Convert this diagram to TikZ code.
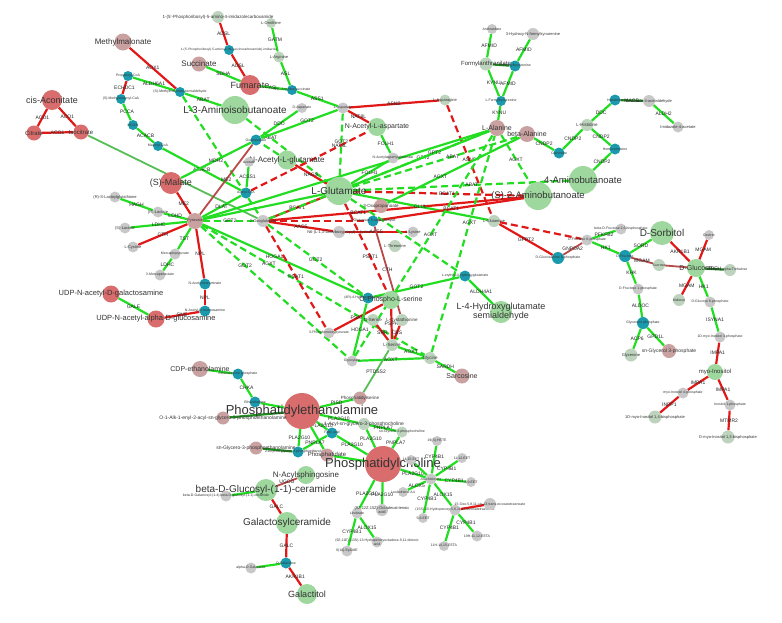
\documentclass[tikz,border=0pt]{standalone}
\usepackage{fontspec}
\setmainfont{Liberation Sans}
\usepackage{xcolor}
\usepackage{tikz}
\usetikzlibrary{backgrounds}

\definecolor{cred}{HTML}{D96C6C}
\definecolor{cpink}{HTML}{C9A1A1}
\definecolor{cgreen}{HTML}{9ED89E}
\definecolor{cgray}{HTML}{C8C8C8}
\definecolor{cgrn}{HTML}{BDD3BD}
\definecolor{cteal}{HTML}{1B9AAE}
\definecolor{egreen}{HTML}{22DD22}
\definecolor{ered}{HTML}{E01818}
\definecolor{edred}{HTML}{B84A4A}
\definecolor{emgreen}{HTML}{55BF55}
\definecolor{edgreen}{HTML}{1F8F1F}

\newcommand{\fsz}[1]{\fontsize{#1}{#1}\selectfont}

\begin{document}
\begin{tikzpicture}[
    x=1pt, y=-1pt,
    rn/.style={circle, inner sep=0pt, fill=cred, minimum size=#1}, rn/.default=16,
    pn/.style={circle, inner sep=0pt, fill=cpink, minimum size=#1}, pn/.default=14,
    gn/.style={circle, inner sep=0pt, fill=cgreen, minimum size=#1}, gn/.default=16,
    yn/.style={circle, inner sep=0pt, fill=cgray, minimum size=#1}, yn/.default=11,
    hn/.style={circle, inner sep=0pt, fill=cgrn, minimum size=#1}, hn/.default=12,
    tn/.style={circle, inner sep=0pt, fill=cteal, minimum size=#1}, tn/.default=11,
    mlab/.style={font=\fsz{#1}, text=black!80, align=center, inner sep=0pt},
    elab/.style={font=\fsz{5}, text=black!85, inner sep=0.5pt},
    gline/.style={draw=egreen, line width=2.2pt},
    gdash/.style={gline, dash pattern=on 7pt off 4pt},
    rline/.style={draw=ered, line width=2.2pt},
    rdash/.style={rline, dash pattern=on 7pt off 4pt},
    drline/.style={draw=edred, line width=1.8pt},
    mgline/.style={draw=emgreen, line width=1.8pt},
    dgline/.style={draw=edgreen, line width=2.2pt},
]
\useasboundingbox (0,0) rectangle (782,622);

% TCA and propanoate
\node[rn=20, label={[mlab=9]center:{cis-Aconitate}}] (cisaco) at (52,100) {};
\node[rn=15, label={[mlab=6]center:{Citrate}}] (citr) at (34,133) {};
\node[rn=15, label={[mlab=6]center:{Isocitrate}}] (isocit) at (81,132) {};
\node[pn=17, label={[mlab=8]center:{Methylmalonate}}] (mmal) at (123,42) {};
\node[tn=10, label={[mlab=3.5]center:{Propanoyl-CoA}}] (propcoa) at (128,76) {};
\node[tn=10, label={[mlab=3.5]center:{(S)-Methylmalonyl-CoA}}] (mmcoa) at (121,99) {};
\node[tn=10, label={[mlab=3.5]center:{HCO3-}}] (hco) at (133,125) {};
\node[tn=10, label={[mlab=3.5]center:{Malonyl-CoA}}] (malcoa) at (158,146) {};
\node[tn=10, label={[mlab=3.5]center:{(S)-Methylmalonate semialdehyde}}] (mmsa) at (180,92) {};
\node[pn=15, label={[mlab=8]center:{Succinate}}] (succ) at (199,64) {};
\node[rn=20, label={[mlab=9]center:{Fumarate}}] (fum) at (250,85) {};
\node[hn=12, label={[mlab=4.5]center:{1-(5'-Phosphoribosyl)-5-amino-4-imidazolecarboxamide}}] (aicar) at (218,17) {};
\node[tn=10, label={[mlab=3.2]center:{1-(5'-Phosphoribosyl)-5-amino-4-(N-succinocarboxamide)-imidazole}}] (saicar) at (229,50) {};
\node[hn=10, label={[mlab=4]center:{L-Ornithine}}] (orn) at (271,23) {};
\node[hn=11, label={[mlab=4]center:{L-Arginine}}] (arg) at (279,57) {};
\node[tn=10, label={[mlab=3.5]center:{N-(L-Arginino)succinate}}] (argsuc) at (292,90) {};
\node[gn=28, label={[mlab=10]center:{L-3-Aminoisobutanoate}}] (l3ai) at (235,110) {};

% aspartate and glutamate
\node[yn=10, label={[mlab=3.5]center:{D-Aspartate}}] (dasp) at (302,108) {};
\node[yn=11, label={[mlab=3.5]center:{L-Aspartate}}] (lasp) at (343,108) {};
\node[hn=11, label={[mlab=4]center:{L-Asparagine}}] (lasn) at (445,100) {};
\node[gn=18, label={[mlab=7]center:{N-Acetyl-L-aspartate}}] (naa) at (377,127) {};
\node[yn=11, label={[mlab=3.5]center:{N-Acetylaspartylglutamate}}] (naag) at (393,158) {};
\node[tn=11, label={[mlab=3.5]center:{Oxaloacetate}}] (oaa) at (256,140) {};
\node[gn=19, label={[mlab=8]center:{N-Acetyl-L-glutamate}}] (nag) at (287,160) {};
\node[yn=10, label={[mlab=3.5]center:{Acetate}}] (acet) at (249,162) {};
\node[tn=11, label={[mlab=3.5]center:{Acetyl-CoA}}] (acoa) at (246,193) {};
\node[gn=28, label={[mlab=10]center:{L-Glutamate}}] (glu) at (339,191) {};
\node[pn=16, label={[mlab=4]center:{Pyruvate}}] (pyr) at (195,221) {};
\node[yn=12, label={[mlab=4]center:{2-Oxoglutarate}}] (akg) at (263,221) {};
\node[yn=12, label={[mlab=4]center:{N6-(L-1,3-Dicarboxypropyl)-L-lysine}}] (sacc) at (339,232) {};
\node[pn=14, label={[mlab=4.5]center:{3-Oxopropanoate}}] (oxop) at (381,206) {};
\node[tn=11, label={[mlab=3.5]center:{L-Glutamate 5-semialdehyde}}] (glutsa) at (373,221) {};
\node[yn=11, label={[mlab=4]center:{L-Lysine}}] (lys) at (413,232) {};
\node[hn=12, label={[mlab=4]center:{L-Threonine}}] (thr) at (395,246) {};
\node[hn=12, label={[mlab=4]center:{L-Glutamine}}] (glnn) at (494,221) {};

% pyruvate side
\node[rn=22, label={[mlab=9]center:{(S)-Malate}}] (malate) at (171,183) {};
\node[yn=11, label={[mlab=4]center:{(R)-S-Lactoylglutathione}}] (rslg) at (115,197) {};
\node[yn=11, label={[mlab=4]center:{(R)-Lactate}}] (rlac) at (158,212) {};
\node[yn=11, label={[mlab=4]center:{(S)-Lactate}}] (slac) at (125,228) {};
\node[yn=11, label={[mlab=4]center:{L-Cystine}}] (cystine) at (133,247) {};
\node[yn=11, label={[mlab=3.5]center:{Mercaptopyruvate}}] (mpyr) at (175,254) {};
\node[yn=11, label={[mlab=3.5]center:{3-Mercaptolactate}}] (mlac) at (160,275) {};
\node[tn=11, label={[mlab=3.5]center:{N-Acetylneuraminate}}] (neu) at (205,284) {};
\node[tn=11, label={[mlab=3.5]center:{N-Acetyl-D-mannosamine}}] (mann) at (205,311) {};
\node[rn=17, label={[mlab=7.5]center:{UDP-N-acetyl-D-galactosamine}}] (udpgal) at (111,294) {};
\node[rn=17, label={[mlab=7.5]center:{UDP-N-acetyl-alpha-D-glucosamine}}] (udpglc) at (156,319) {};

% tryptophan and histidine
\node[yn=10, label={[mlab=3.5]center:{Anthranilate}}] (anth) at (492,29) {};
\node[yn=12, label={[mlab=4]center:{3-Hydroxy-N-formylkynurenine}}] (hnfk) at (533,34) {};
\node[hn=13, label={[mlab=6]center:{Formylanthranilate}}] (fanth) at (486,64) {};
\node[tn=11, label={[mlab=3.5]center:{N-Formylkynurenine}}] (nfk) at (515,66) {};
\node[tn=10, label={[mlab=3.5]center:{L-Formylkynurenine}}] (kyn) at (501,101) {};
\node[pn=16, label={[mlab=7]center:{L-Alanine}}] (ala) at (497,128) {};
\node[pn=16, label={[mlab=7]center:{beta-Alanine}}] (bala) at (527,134) {};
\node[tn=11, label={[mlab=3.5]center:{Carnosine}}] (carn) at (559,153) {};
\node[hn=12, label={[mlab=4.5]center:{L-Histidine}}] (his) at (587,125) {};
\node[tn=11, label={[mlab=3.5]center:{Histamine}}] (hista) at (615,100) {};
\node[yn=12, label={[mlab=4]center:{Imidazole-4-acetaldehyde}}] (imald) at (649,101) {};
\node[yn=11, label={[mlab=4]center:{Imidazole-4-acetate}}] (imac) at (678,127) {};
\node[tn=11, label={[mlab=3.5]center:{Homocarnosine}}] (hcarn) at (615,149) {};
\node[gn=28, label={[mlab=9.5]center:{4-Aminobutanoate}}] (gaba) at (583,180) {};
\node[gn=28, label={[mlab=9.5]center:{(S)-2-Aminobutanoate}}] (aba) at (538,196) {};

% serine and glycine
\node[tn=11, label={[mlab=3.5]center:{(4R)-4-Hydroxy-2-oxoglutarate}}] (ohglut) at (368,298) {};
\node[gn=18, label={[mlab=7]center:{O-Phospho-L-serine}}] (pser) at (391,300) {};
\node[hn=12, label={[mlab=4.5]center:{L-Cystathionine}}] (cysta) at (402,320) {};
\node[hn=12, label={[mlab=4.5]center:{D-Serine}}] (dser) at (373,320) {};
\node[hn=12, label={[mlab=4.5]center:{L-Serine}}] (ser) at (392,345) {};
\node[hn=12, label={[mlab=4.5]center:{Glycine}}] (gly) at (430,358) {};
\node[yn=11, label={[mlab=3.5]center:{Glyoxylate}}] (glyox) at (352,361) {};
\node[yn=11, label={[mlab=3.5]center:{3-Phosphonooxypyruvate}}] (php) at (329,333) {};
\node[pn=15, label={[mlab=7]center:{Sarcosine}}] (sarc) at (462,376) {};
\node[tn=11, label={[mlab=3.5]center:{L-erythro-4-Hydroxyglutamate}}] (ehg) at (465,276) {};
\node[gn=22, label={[mlab=9]center:{L-4-Hydroxyglutamate\\semialdehyde}}] (hgsa) at (501,312) {};
\node[pn=13, label={[mlab=4.5]center:{Phosphatidylserine}}] (ptdser) at (360,398) {};

% lipids
\node[pn=16, label={[mlab=7]center:{CDP-ethanolamine}}] (cdpe) at (200,369) {};
\node[tn=11, label={[mlab=3.5]center:{Ethanolamine phosphate}}] (etnp) at (238,374) {};
\node[tn=11, label={[mlab=3.5]center:{Ethanolamine}}] (etn) at (255,402) {};
\node[rn=36, label={[mlab=13]center:{Phosphatidylethanolamine}}] (pe) at (302,411) {};
\node[pn=13, label={[mlab=5]center:{O-1-Alk-1-enyl-2-acyl-sn-glycero-3-phosphoethanolamine}}] (plasm) at (223,418) {};
\node[pn=13, label={[mlab=5]center:{sn-Glycero-3-phosphoethanolamine}}] (gpe) at (256,448) {};
\node[hn=12, label={[mlab=5]center:{1-Acyl-sn-glycero-3-phosphocholine}}] (lpc) at (364,424) {};
\node[hn=11, label={[mlab=3.5]center:{sn-Glycero-3-phosphocholine}}] (gpc) at (402,432) {};
\node[tn=11, label={[mlab=3.5]center:{Fatty acid}}] (fa) at (332,433) {};
\node[tn=11, label={[mlab=3.5]center:{2-Acyl-sn-glycero-3-phosphoethanolamine}}] (lpe) at (298,452) {};
\node[pn=13, label={[mlab=6]center:{Phosphatidate}}] (pa) at (327,455) {};
\node[rn=36, label={[mlab=13]center:{Phosphatidylcholine}}] (pc) at (383,464) {};
\node[gn=18, label={[mlab=8]center:{N-Acylsphingosine}}] (cer) at (306,475) {};
\node[gn=22, label={[mlab=10]center:{beta-D-Glucosyl-(1-1)-ceramide}}] (glccer) at (266,490) {};
\node[yn=11, label={[mlab=3.5]center:{beta-D-Galactosyl-(1-4)-beta-D-glucosyl-(1-1)-ceramide}}] (laccer) at (226,496) {};
\node[gn=22, label={[mlab=10]center:{Galactosylceramide}}] (galcer) at (287,523) {};
\node[yn=11, label={[mlab=3.5]center:{alpha-D-Galactose}}] (agal) at (251,568) {};
\node[tn=11, label={[mlab=3.5]center:{D-Galactose}}] (dgal) at (286,563) {};
\node[gn=20, label={[mlab=9]center:{Galactitol}}] (galol) at (307,594) {};

% eicosanoids
\node[yn=11, label={[mlab=3.5]center:{Arachidonate}}] (arach) at (431,479) {};
\node[yn=10, label={[mlab=3.5]center:{19(S)-HETE}}] (hete) at (437,441) {};
\node[yn=10, label={[mlab=3.5]center:{14,15-EET}}] (eeta) at (411,460) {};
\node[yn=10, label={[mlab=3.5]center:{11,12-EET}}] (eetb) at (462,458) {};
\node[yn=10, label={[mlab=3.5]center:{8,9-EET}}] (eetc) at (471,482) {};
\node[yn=10, label={[mlab=3.5]center:{Leukotriene A4}}] (lta) at (403,492) {};
\node[yn=10, label={[mlab=3.5]center:{5,6-EET}}] (eetd) at (423,518) {};
\node[yn=11, label={[mlab=3.5]center:{(15S)-15-Hydroperoxy-5,8,11,13-eicosatetraenoate}}] (hpete) at (455,510) {};
\node[yn=12, label={[mlab=3.5]center:{15-Oxo-5,8,11-cis-13-trans-eicosatetraenoate}}] (oxoete) at (490,504) {};
\node[yn=11, label={[mlab=3.5]center:{19H-11,12-EETA}}] (eetaa) at (477,536) {};
\node[yn=10, label={[mlab=3.5]center:{11H-14,15-EETA}}] (eetab) at (444,546) {};
\node[yn=11, label={[mlab=3.5]center:{Linoleate}}] (lino) at (357,513) {};
\node[yn=12, label={[mlab=4]center:{(9Z,12Z,15Z)-Octadecatrienoic\\acid}}] (lnn) at (382,510) {};
\node[yn=11, label={[mlab=3.5]center:{(9Z,11E)-(13S)-13-Hydroperoxyoctadeca-9,11-dienoic\\acid}}] (hpode) at (377,542) {};
\node[yn=11, label={[mlab=3.5]center:{9(10)-EpOME}}] (epome) at (347,551) {};

% sugars and inositols
\node[yn=11, label={[mlab=3.5]center:{beta-D-Fructose 2,6-bisphosphate}}] (fbp) at (621,229) {};
\node[yn=11, label={[mlab=3.5]center:{D-Fructose 6-phosphate}}] (f6p) at (587,240) {};
\node[tn=12, label={[mlab=3.5]center:{D-Glucosamine 6-phosphate}}] (gn6p) at (558,258) {};
\node[tn=12, label={[mlab=3.5]center:{D-Fructose}}] (fru) at (625,256) {};
\node[gn=24, label={[mlab=10]center:{D-Sorbitol}}] (sorb) at (662,233) {};
\node[hn=12, label={[mlab=3.5]center:{Sucrose}}] (sucr) at (659,265) {};
\node[gn=18, label={[mlab=7]center:{D-Glucose}}] (glc) at (696,268) {};
\node[hn=12, label={[mlab=3.5]center:{alpha,alpha-Trehalose}}] (treh) at (730,270) {};
\node[yn=10, label={[mlab=3.5]center:{Dextrin}}] (dext) at (709,235) {};
\node[hn=12, label={[mlab=3.5]center:{Maltose}}] (malt) at (679,300) {};
\node[yn=11, label={[mlab=3.5]center:{D-Glucose 6-phosphate}}] (g6p) at (710,302) {};
\node[yn=11, label={[mlab=3.5]center:{D-Fructose 1-phosphate}}] (f1p) at (638,289) {};
\node[tn=12, label={[mlab=3.5]center:{Glycerone phosphate}}] (dhap) at (643,323) {};
\node[hn=13, label={[mlab=4]center:{Glycerone}}] (dha) at (631,355) {};
\node[pn=14, label={[mlab=5]center:{sn-Glycerol 3-phosphate}}] (g3p) at (669,351) {};
\node[yn=11, label={[mlab=3.5]center:{1D-myo-Inositol 3-phosphate}}] (mi3p) at (720,337) {};
\node[gn=16, label={[mlab=6]center:{myo-Inositol}}] (inos) at (715,372) {};
\node[yn=11, label={[mlab=3.5]center:{myo-Inositol 4-phosphate}}] (mi4p) at (683,393) {};
\node[yn=11, label={[mlab=3.5]center:{Inositol 1-phosphate}}] (i1p) at (730,405) {};
\node[hn=13, label={[mlab=4]center:{1D-myo-Inositol 1,4-bisphosphate}}] (ipa) at (655,417) {};
\node[hn=13, label={[mlab=4]center:{D-myo-Inositol 1,3-bisphosphate}}] (ipb) at (728,437) {};

\begin{pgfonlayer}{background}
% TCA and propanoate
\draw[rline] (cisaco) -- node[elab]{ACO1} (citr);
\draw[rline] (cisaco) -- node[elab]{ACO1} (isocit);
\draw[rline] (citr) -- node[elab]{ACO1} (isocit);
\draw[mgline] (isocit) -- (akg);
\draw[rline] (mmal) -- node[elab]{AOX1} (mmsa);
\draw[rline] (propcoa) -- node[elab]{ECHDC1} (mmcoa);
\draw[gline] (propcoa) -- node[elab]{ALDH6A1} (mmsa);
\draw[gline] (mmcoa) -- node[elab]{PCCA} (hco);
\draw[gline] (hco) -- node[elab]{ACACB} (malcoa);
\draw[gline] (malcoa) -- node[elab]{ACACB} (acoa);
\draw[gline] (mmsa) -- node[elab]{ABAT} (l3ai);
\draw[gdash] (mmsa) -- (akg);
\draw[gdash] (l3ai) -- node[elab, pos=0.3]{ABAT} (glu);
\draw[gline] (succ) -- node[elab]{SDHA} (fum);
\draw[rline] (aicar) -- node[elab]{ADSL} (saicar);
\draw[rline] (saicar) -- node[elab]{ADSL} (fum);
\draw[gline] (orn) -- node[elab]{GATM} (arg);
\draw[gline] (arg) -- node[elab]{ASL} (argsuc);
\draw[gline] (argsuc) -- node[elab]{ASL} (fum);
\draw[gline] (argsuc) -- node[elab]{ASS1} (lasp);

% aspartate and glutamate
\draw[gline] (dasp) -- node[elab]{DDO} (oaa);
\draw[gline] (lasp) -- node[elab, pos=0.4]{GOT2} (oaa);
\draw[rline] (lasp) -- node[elab]{ASNS} (lasn);
\draw[rline] (lasp) -- node[elab]{NAT8L} (naa);
\draw[gdash] (lasp) -- node[elab, pos=0.45]{GOT2} (glu);
\draw[gline] (naa) -- node[elab]{FOLH1} (naag);
\draw[gline] (naag) -- node[elab]{FOLH1} (glu);
\draw[rdash] (lasn) -- node[elab]{ASNS} (glnn);
\draw[rdash] (acoa) -- node[elab, pos=0.75]{NAT8L} (naa);
\draw[rline] (nag) -- node[elab]{NAGS} (glu);
\draw[gdash] (nag) -- (oaa);
\draw[gline] (acet) -- node[elab]{ACSS1} (acoa);
\draw[drline] (pyr) -- node[elab]{ME2} (oaa);
\draw[gline] (malate) -- node[elab]{MDH2} (oaa);
\draw[rline] (akg) -- node[elab]{BCAT1} (glu);
\draw[rline] (akg) -- node[elab, pos=0.35]{BCAT1} (aba);
\draw[rdash] (glu) -- node[elab, pos=0.55]{BCAT1} (aba);
\draw[gdash] (glu) -- node[elab, pos=0.55]{ABAT} (gaba);
\draw[gdash] (glu) -- node[elab, pos=0.6]{ABAT} (bala);
\draw[gdash] (akg) -- node[elab, pos=0.7]{GPT2} (ala);
\draw[gline] (glu) -- node[elab, pos=0.6]{GPT2} (ala);
\draw[gline] (glu) -- node[elab]{GLUL} (glnn);
\draw[gline] (oxop) -- node[elab, pos=0.4]{AGXT} (bala);
\draw[rline] (akg) -- node[elab]{AASS} (sacc);
\draw[rline] (sacc) -- node[elab]{AASS} (lys);
\draw[rline] (glutsa) -- node[elab]{BCAT1} (aba);
\draw[rdash] (akg) -- (glutsa);
\draw[rline] (glnn) -- node[elab]{GFPT2} (gn6p);
\draw[rdash] (glnn) -- (f6p);
\draw[gdash] (ala) -- node[elab]{AGXT} (aba);

% pyruvate side
\draw[gline] (rslg) -- node[elab]{HAGH} (rlac);
\draw[gline] (rlac) -- node[elab]{LDHD} (pyr);
\draw[gline] (slac) -- node[elab]{LDHC} (pyr);
\draw[rline] (cystine) -- node[elab]{CTH} (pyr);
\draw[gline] (mpyr) -- node[elab]{TST} (pyr);
\draw[gline] (mpyr) -- node[elab]{LDHC} (mlac);
\draw[rline] (pyr) -- node[elab]{NPL} (neu);
\draw[rline] (neu) -- node[elab]{NPL} (mann);
\draw[rline] (mann) -- node[elab]{GNE} (udpglc);
\draw[gline] (udpgal) -- node[elab]{GALE} (udpglc);
\draw[rline] (malate) -- node[elab]{ME2} (pyr);
\draw[gline] (pyr) -- node[elab]{DLAT} (acoa);
\draw[gdash] (pyr) -- node[elab]{GPT2} (akg);
\draw[gline] (pyr) -- (glu);
\draw[gline] (pyr) -- (ala);
\draw[gline] (pyr) -- node[elab, pos=0.45]{HOGA1} (ohglut);
\draw[gdash] (pyr) -- node[elab, pos=0.3]{GOT2} (glyox);
\draw[gdash] (pyr) -- node[elab, pos=0.3]{AGXT} (gly);

% serine and glycine
\draw[rdash] (akg) -- node[elab]{PSAT1} (php);
\draw[rline] (php) -- node[elab]{PSAT1} (pser);
\draw[rdash] (glu) -- node[elab, pos=0.6]{PSAT1} (pser);
\draw[rline] (pser) -- node[elab]{PSPH} (ser);
\draw[rline] (dser) -- node[elab]{SRR} (ser);
\draw[rline] (cysta) -- node[elab]{CBS} (ser);
\draw[drline] (glutsa) -- node[elab]{CTH} (cysta);
\draw[gdash] (akg) -- node[elab]{GOT2} (ohglut);
\draw[gline] (ohglut) -- node[elab]{GOT2} (ehg);
\draw[gdash] (glu) -- (ehg);
\draw[gline] (ehg) -- node[elab]{ALDH4A1} (hgsa);
\draw[gline] (ohglut) -- node[elab]{HOGA1} (glyox);
\draw[gline] (glyox) -- node[elab]{AGXT} (gly);
\draw[gline] (ser) -- node[elab]{AGXT} (gly);
\draw[gline] (gly) -- node[elab]{SARDH} (sarc);
\draw[gdash] (gly) -- node[elab, pos=0.6]{AGXT} (ala);
\draw[gdash] (glyox) -- node[elab, pos=0.55]{AGXT} (ala);
\draw[mgline] (ser) -- node[elab]{PTDSS2} (ptdser);

% tryptophan and histidine
\draw[gline] (anth) -- node[elab]{AFMID} (fanth);
\draw[gline] (hnfk) -- node[elab]{AFMID} (nfk);
\draw[dgline] (fanth) -- (nfk);
\draw[gline] (fanth) -- node[elab]{KYNU} (kyn);
\draw[gline] (nfk) -- node[elab]{AFMID} (kyn);
\draw[gline] (kyn) -- node[elab]{KYNU} (ala);
\draw[gline] (bala) -- node[elab]{CNDP2} (carn);
\draw[gline] (carn) -- node[elab]{CNDP2} (his);
\draw[gline] (his) -- node[elab]{DDC} (hista);
\draw[gline] (his) -- node[elab]{CNDP2} (hcarn);
\draw[gline] (hcarn) -- node[elab]{CNDP2} (gaba);
\draw[dgline] (hista) -- node[elab]{MAOB} (imald);
\draw[gline] (imald) -- node[elab]{ALDH2} (imac);

% sugars and inositols
\draw[drline] (gn6p) -- node[elab]{GNPDA2} (f6p);
\draw[gline] (f6p) -- node[elab]{PFKFB2} (fbp);
\draw[gline] (f6p) -- node[elab]{HK1} (fru);
\draw[gline] (fru) -- node[elab]{SORD} (sorb);
\draw[rline] (sorb) -- node[elab]{AKR1B1} (glc);
\draw[drline] (fru) -- node[elab]{MGAM} (sucr);
\draw[drline] (sucr) -- (glc);
\draw[rline] (dext) -- node[elab]{MGAM} (glc);
\draw[dgline] (glc) -- node[elab]{TREH} (treh);
\draw[rline] (malt) -- node[elab]{MGAM} (glc);
\draw[gline] (glc) -- node[elab]{HK1} (g6p);
\draw[gline] (g6p) -- node[elab]{ISYNA1} (mi3p);
\draw[rline] (mi3p) -- node[elab]{IMPA1} (inos);
\draw[rline] (inos) -- node[elab]{IMPA1} (mi4p);
\draw[rline] (inos) -- node[elab]{IMPA1} (i1p);
\draw[rline] (mi4p) -- node[elab]{INPP1} (ipa);
\draw[rline] (i1p) -- node[elab]{MTMR2} (ipb);
\draw[gline] (fru) -- node[elab]{KHK} (f1p);
\draw[gline] (f1p) -- node[elab]{ALDOC} (dhap);
\draw[gline] (dhap) -- node[elab]{ACP6} (dha);
\draw[gline] (dhap) -- node[elab]{GPD1L} (g3p);

% lipids
\draw[gline] (cdpe) -- (etnp);
\draw[gline] (etnp) -- node[elab]{CHKA} (etn);
\draw[gline] (etn) -- (pe);
\draw[dgline] (plasm) -- (pe);
\draw[dgline] (gpe) -- (lpe);
\draw[gline] (pe) -- node[elab]{PLA2G10} (lpc);
\draw[gline] (pe) -- node[elab]{PLA2G10} (fa);
\draw[gline] (pe) -- node[elab]{PLA2G10} (lpe);
\draw[gline] (pe) -- node[elab]{PISD} (ptdser);
\draw[gline] (pe) -- (pa);
\draw[gline] (lpc) -- node[elab]{PNPLA7} (gpc);
\draw[gline] (fa) -- node[elab]{PNPLA7} (lpe);
\draw[gline] (fa) -- node[elab]{PLA2G10} (pc);
\draw[gline] (lpc) -- node[elab]{PLA2G10} (pc);
\draw[gline] (gpc) -- node[elab]{PNPLA7} (pc);
\draw[gline] (pc) -- (pa);
\draw[gline] (pc) -- node[elab]{PLA2G10} (arach);
\draw[gline] (pc) -- node[elab]{PLA2G10} (lino);
\draw[gline] (pc) -- node[elab, pos=0.6]{PLA2G10} (lnn);
\draw[gline] (arach) -- node[elab, pos=0.6]{CYP4B1} (hete);
\draw[gline] (arach) -- (eeta);
\draw[gline] (arach) -- node[elab]{CYP4B1} (eetb);
\draw[gline] (arach) -- node[elab, pos=0.6]{CYP4B1} (eetc);
\draw[gline] (arach) -- node[elab]{ALOX5} (lta);
\draw[gline] (arach) -- node[elab]{CYP4B1} (eetd);
\draw[gline] (arach) -- node[elab]{ALOX15} (hpete);
\draw[rline] (hpete) -- (oxoete);
\draw[gline] (hpete) -- node[elab]{CYP4B1} (eetaa);
\draw[gline] (hpete) -- node[elab]{CYP4B1} (eetab);
\draw[gline] (lino) -- node[elab]{ALOX15} (hpode);
\draw[gline] (lino) -- node[elab]{CYP4B1} (epome);
\draw[drline] (cer) -- node[elab]{UGCG} (glccer);
\draw[gline] (glccer) -- (laccer);
\draw[rline] (glccer) -- node[elab]{GALC} (galcer);
\draw[rline] (galcer) -- node[elab]{GALC} (dgal);
\draw[rline] (dgal) -- node[elab]{AKR1B1} (galol);
\draw[gline] (agal) -- (dgal);
\end{pgfonlayer}

\end{tikzpicture}
\end{document}
